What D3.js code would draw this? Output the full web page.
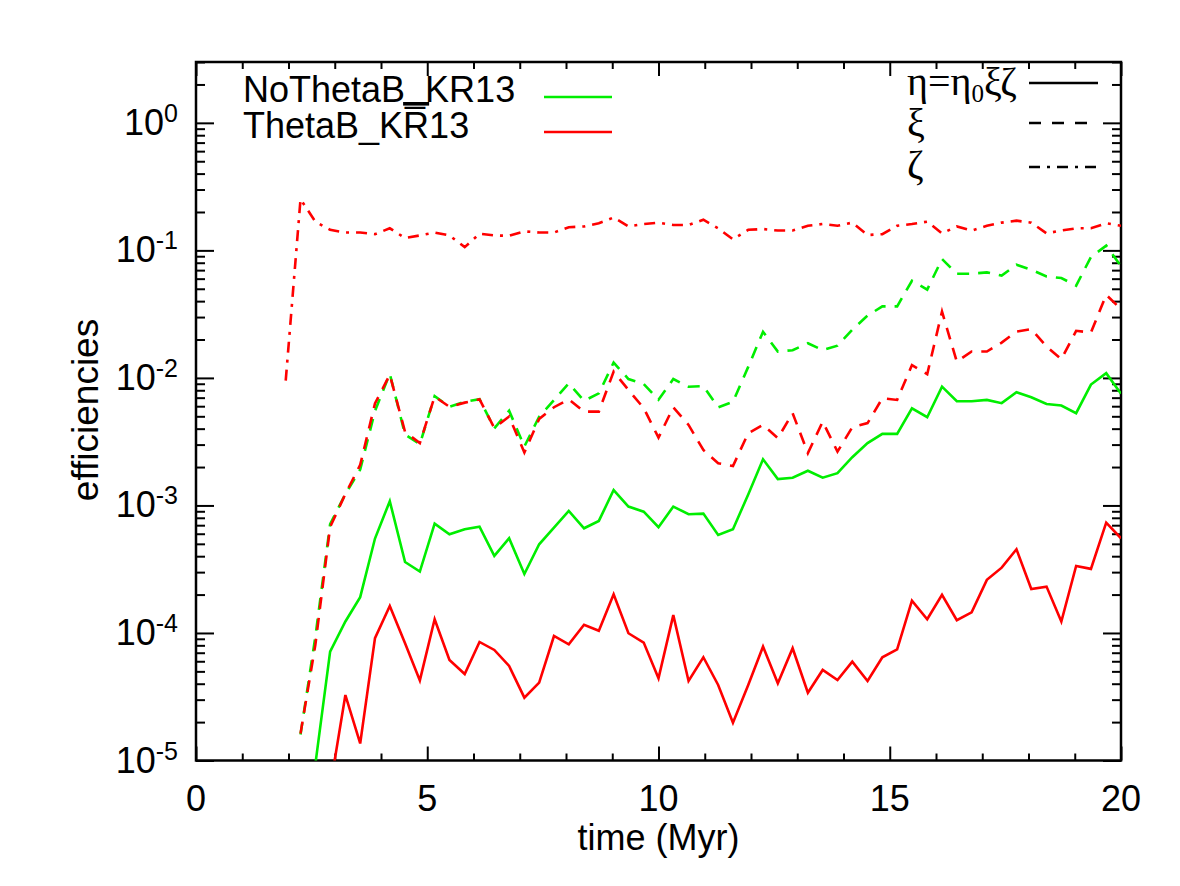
<!DOCTYPE html>
<html><head><meta charset="utf-8">
<script src="https://cdn.jsdelivr.net/npm/d3@7"></script>
<style>
body{margin:0;background:#fff}
text{font-family:"Liberation Sans",Arial,Helvetica,sans-serif;fill:#000}
</style>
</head><body>
<svg id="chart" width="1180" height="886"></svg>
<script>
// ---- data ----
const times = [1.94,2.26,2.58,2.90,3.23,3.55,3.87,4.19,4.52,4.84,5.16,5.48,5.81,6.13,6.45,6.77,7.10,7.42,7.74,8.06,8.39,8.71,9.03,9.35,9.68,10.00,10.32,10.65,10.97,11.29,11.61,11.94,12.26,12.58,12.90,13.23,13.55,13.87,14.19,14.52,14.84,15.16,15.48,15.81,16.13,16.45,16.77,17.10,17.42,17.74,18.06,18.39,18.71,19.03,19.35,19.68,20.00];

const noThetaEta = [null,1.6e-6,9.3e-6,7.13e-5,1.23e-4,1.91e-4,5.5e-4,1.08e-3,3.6e-4,3.03e-4,7.2e-4,5.94e-4,6.5e-4,6.82e-4,4.02e-4,5.53e-4,2.9e-4,4.96e-4,6.7e-4,9.06e-4,6.62e-4,7.56e-4,1.32e-3,9.8e-4,8.94e-4,6.75e-4,9.8e-4,8.53e-4,8.63e-4,5.87e-4,6.5e-4,1.22e-3,2.3e-3,1.61e-3,1.65e-3,1.87e-3,1.65e-3,1.79e-3,2.39e-3,3.08e-3,3.64e-3,3.64e-3,5.78e-3,4.92e-3,8.55e-3,6.56e-3,6.56e-3,6.72e-3,6.34e-3,7.72e-3,7.06e-3,6.25e-3,6.07e-3,5.29e-3,8.87e-3,1.09e-2,7.53e-3];

const noThetaXi = [null,1.6e-5,9.3e-5,7.13e-4,1.23e-3,1.91e-3,5.5e-3,1.08e-2,3.6e-3,3.03e-3,7.2e-3,5.94e-3,6.5e-3,6.82e-3,4.02e-3,5.53e-3,2.9e-3,4.96e-3,6.7e-3,9.06e-3,6.62e-3,7.56e-3,1.32e-2,9.8e-3,8.94e-3,6.75e-3,9.8e-3,8.53e-3,8.63e-3,5.87e-3,6.5e-3,1.22e-2,2.3e-2,1.61e-2,1.65e-2,1.87e-2,1.65e-2,1.79e-2,2.39e-2,3.08e-2,3.64e-2,3.64e-2,5.78e-2,4.92e-2,8.55e-2,6.56e-2,6.56e-2,6.72e-2,6.34e-2,7.72e-2,7.06e-2,6.25e-2,6.07e-2,5.29e-2,8.87e-2,1.09e-1,7.53e-2];

const thetaEta = [null,4e-7,1.3e-6,6.1e-6,3.26e-5,1.36e-5,9.1e-5,1.63e-4,8.3e-5,4.25e-5,1.28e-4,6.14e-5,4.77e-5,8.5e-5,7.36e-5,5.51e-5,3.11e-5,4.08e-5,9.47e-5,8.15e-5,1.16e-4,1.04e-4,2.01e-4,9.95e-5,8.4e-5,4.41e-5,1.38e-4,4.2e-5,6.45e-5,3.91e-5,1.98e-5,3.91e-5,7.81e-5,4.03e-5,7.59e-5,3.4e-5,5.13e-5,4.28e-5,5.96e-5,4.2e-5,6.45e-5,7.45e-5,1.79e-4,1.28e-4,1.99e-4,1.26e-4,1.45e-4,2.61e-4,3.25e-4,4.53e-4,2.21e-4,2.31e-4,1.23e-4,3.35e-4,3.18e-4,7.33e-4,5.53e-4];

const thetaXi = [null,1.63e-5,8.05e-5,6.78e-4,1.23e-3,2.08e-3,6.3e-3,1.06e-2,3.77e-3,3.08e-3,7.14e-3,5.93e-3,6.4e-3,6.8e-3,4.05e-3,4.98e-3,2.6e-3,4.77e-3,5.89e-3,6.8e-3,5.44e-3,5.44e-3,1.12e-2,8.05e-3,5.8e-3,3.4e-3,5.89e-3,4.28e-3,2.72e-3,2.14e-3,2.04e-3,3.68e-3,4.28e-3,3.37e-3,5.29e-3,2.57e-3,4.54e-3,2.64e-3,4.1e-3,4.42e-3,6.93e-3,6.72e-3,1.26e-2,1.07e-2,3.31e-2,1.34e-2,1.61e-2,1.61e-2,1.89e-2,2.31e-2,2.41e-2,1.76e-2,1.4e-2,2.34e-2,2.27e-2,4.48e-2,3.46e-2];

const thetaZeta = [9.52e-3,0.252,0.168,0.145,0.138,0.138,0.134,0.149,0.125,0.131,0.138,0.131,0.106,0.135,0.131,0.130,0.141,0.138,0.138,0.152,0.154,0.163,0.181,0.154,0.161,0.165,0.158,0.158,0.174,0.149,0.122,0.145,0.147,0.143,0.143,0.156,0.161,0.156,0.165,0.132,0.134,0.156,0.161,0.168,0.136,0.154,0.143,0.156,0.165,0.171,0.165,0.136,0.143,0.149,0.149,0.163,0.156];

const xMajorTicks = [0,5,10,15,20];
const xMinorTicks = [1,2,3,4,6,7,8,9,11,12,13,14,16,17,18,19];
const yMajorExps = [0,-1,-2,-3,-4,-5];
const runNames = ["NoThetaB_KR13","ThetaB_KR13"];

// ---- layout / style ----
const GREEN = "#00ee00", RED = "#ff0000";
const L = 196, R = 1121, T = 62, B = 760.5;
const svg = d3.select("#chart");
const x = d3.scaleLinear().domain([0,20]).range([L,R]);
const y = d3.scaleLog().domain([1e-5,3]).range([B,T]);

const yMajor = yMajorExps.map(e => Math.pow(10,e));
const yMinor = [];
yMajorExps.forEach(e => { for (let m=2;m<=9;m++){ const v=m*Math.pow(10,e); if (v<=3) yMinor.push(v);} });

svg.append("defs").append("clipPath").attr("id","clip")
  .append("rect").attr("x",L).attr("y",T).attr("width",R-L).attr("height",B-T);

function addAxis(axis, tx, ty){
  const g = svg.append("g").attr("transform",`translate(${tx},${ty})`).call(axis);
  g.select(".domain").remove();
  g.selectAll("line").attr("stroke","#000").attr("stroke-width",2);
  g.selectAll("text").remove();
  return g;
}
addAxis(d3.axisBottom(x).tickValues(xMajorTicks).tickSize(-14), 0, B);
addAxis(d3.axisBottom(x).tickValues(xMinorTicks).tickSize(-7), 0, B);
addAxis(d3.axisTop(x).tickValues(xMajorTicks).tickSize(-14), 0, T);
addAxis(d3.axisTop(x).tickValues(xMinorTicks).tickSize(-7), 0, T);
addAxis(d3.axisLeft(y).tickValues(yMajor).tickSize(-18), L, 0);
addAxis(d3.axisLeft(y).tickValues(yMinor).tickSize(-9), L, 0);
addAxis(d3.axisRight(y).tickValues(yMajor).tickSize(-18), R, 0);
addAxis(d3.axisRight(y).tickValues(yMinor).tickSize(-9), R, 0);

svg.append("rect").attr("x",L).attr("y",T).attr("width",R-L).attr("height",B-T)
  .attr("fill","none").attr("stroke","#000").attr("stroke-width",2.5);

// tick labels
svg.append("g").selectAll("text").data(xMajorTicks).join("text")
  .attr("x",d=>x(d)).attr("y",811).attr("text-anchor","middle")
  .attr("font-size",36).text(d=>d);
const yl = svg.append("g").selectAll("text").data(yMajorExps).join("text")
  .attr("x",178).attr("y",d=>y(Math.pow(10,d))+12).attr("text-anchor","end")
  .attr("font-size",36);
yl.append("tspan").text("10");
yl.append("tspan").attr("dy",-13).attr("font-size",25).text(d=>String(d));

// axis titles
svg.append("text").attr("x",(L+R)/2).attr("y",850).attr("text-anchor","middle")
  .attr("font-size",36).text("time (Myr)");
svg.append("text").attr("transform","translate(98,410) rotate(-90)")
  .attr("text-anchor","middle").attr("font-size",37).text("efficiencies");

// series
const series = [
  {vals:noThetaEta, color:GREEN, dash:null},
  {vals:noThetaXi, color:GREEN, dash:"12,9"},
  {vals:thetaEta, color:RED, dash:null},
  {vals:thetaXi, color:RED, dash:"12,9"},
  {vals:thetaZeta, color:RED, dash:"11,7,3,7"}
];
const line = d3.line().defined(d=>d.v!=null).x(d=>x(d.t)).y(d=>y(d.v));
const plot = svg.append("g").attr("clip-path","url(#clip)");
series.forEach(s=>{
  const pts = times.map((t,i)=>({t:t, v:s.vals[i]}));
  plot.append("path").datum(pts).attr("d",line)
    .attr("fill","none").attr("stroke",s.color).attr("stroke-width",2.6)
    .attr("stroke-linejoin","miter").attr("stroke-dasharray",s.dash);
});

// legend (runs)
const lg = svg.append("g");
lg.append("text").attr("x",243).attr("y",102).attr("font-size",36).text(runNames[0]);
const t2 = lg.append("text").attr("x",243).attr("y",138).attr("font-size",36);
t2.append("tspan").text("ThetaB_K");
t2.append("tspan").style("text-decoration","overline").text("R");
t2.append("tspan").text("13");
lg.append("line").attr("x1",544).attr("x2",612).attr("y1",97).attr("y2",97).attr("stroke",GREEN).attr("stroke-width",2.6);
lg.append("line").attr("x1",544).attr("x2",612).attr("y1",132).attr("y2",132).attr("stroke",RED).attr("stroke-width",2.6);

// legend (quantities)
const gq = svg.append("g");
const serif = "'Liberation Serif','DejaVu Serif',serif";
const e1 = gq.append("text").attr("x",907).attr("y",95).attr("font-size",40).style("font-family",serif);
e1.append("tspan").text("η=η");
e1.append("tspan").attr("dy",7).attr("font-size",25).text("0");
e1.append("tspan").attr("dy",-7).text("ξζ");
gq.append("text").attr("x",907).attr("y",136).attr("font-size",40).style("font-family",serif).text("ξ");
gq.append("text").attr("x",907).attr("y",178).attr("font-size",40).style("font-family",serif).text("ζ");
[[83,null],[123,"12,11"],[167,"11,7,3,7"]].forEach(([yy,da])=>{
  gq.append("line").attr("x1",1029).attr("x2",1098).attr("y1",yy).attr("y2",yy)
    .attr("stroke","#000").attr("stroke-width",2.6).attr("stroke-dasharray",da);
});
</script>
</body></html>
